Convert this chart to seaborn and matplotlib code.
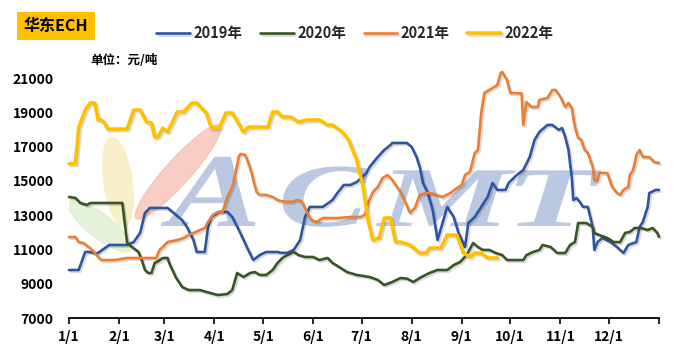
import pandas as pd
import seaborn as sns
import matplotlib.pyplot as plt
import matplotlib.patheffects as pe
from matplotlib.patches import Ellipse, PathPatch
from matplotlib.textpath import TextPath
from matplotlib.font_manager import FontProperties
from matplotlib.transforms import Affine2D

# data: day of year -> price (yuan/ton)
days_2019 = [0, 6, 10, 13, 15, 18, 21, 25, 36, 40, 44, 47, 50, 61, 64, 70, 73, 77, 79, 84,
             86, 88, 93, 98, 101, 106, 110, 114, 118, 122, 129, 131, 135, 139, 143, 146, 149,
             157, 163, 166, 170, 174, 178, 184, 186, 191, 195, 199, 200, 209, 212, 215, 217,
             219, 222, 225, 228, 234, 238, 241, 245, 247, 251, 255, 259, 262, 265, 270, 272,
             277, 281, 285, 288, 291, 296, 299, 303, 305, 307, 309, 311, 312, 314, 316, 318,
             321, 324, 325, 327, 330, 335, 339, 343, 346, 351, 353, 355, 358, 359, 363, 365]
price_2019 = [9800, 9800, 10850, 10850, 10790, 10790, 11000, 11260, 11260, 11430, 11960, 13130,
              13420, 13420, 13190, 12710, 12300, 11550, 10850, 10850, 12300, 12890, 13190, 13190,
              12890, 11960, 11140, 10380, 10670, 10850, 10850, 10800, 10800, 10970, 11550, 12890,
              13480, 13480, 13880, 14290, 14760, 14760, 14930, 15460, 15810, 16390, 16800, 17100,
              17210, 17210, 16980, 16390, 15810, 14880, 14290, 13300, 11550, 13480, 12890, 11960,
              11140, 12540, 12890, 13480, 14060, 14880, 14470, 14470, 14880, 15340, 15630, 16390,
              17380, 17850, 18260, 18260, 17970, 18080, 17560, 16800, 15230, 13880, 14000, 13770,
              13480, 13480, 12310, 10970, 11430, 11670, 11430, 11140, 10790, 11260, 11430, 12310,
              12600, 13480, 14290, 14470, 14470]

days_2020 = [0, 4, 7, 11, 13, 15, 33, 36, 39, 43, 45, 47, 49, 51, 53, 55, 58, 61, 62, 66, 70,
             74, 81, 85, 92, 98, 101, 104, 108, 112, 115, 118, 122, 126, 129, 132, 135, 139, 142,
             146, 151, 155, 160, 163, 168, 172, 178, 182, 186, 191, 195, 200, 205, 209, 213, 218,
             223, 228, 234, 238, 242, 246, 250, 253, 256, 260, 264, 268, 271, 281, 283, 287, 291,
             293, 298, 302, 307, 310, 313, 315, 320, 324, 325, 328, 333, 337, 341, 344, 347, 350,
             354, 358, 361, 364, 365]
price_2020 = [14060, 14000, 13710, 13590, 13700, 13710, 13710, 11370, 11140, 10850, 10380, 9800,
              9625, 9625, 10210, 10300, 10500, 10500, 10210, 9390, 8810, 8630, 8630, 8520, 8340,
              8400, 8630, 9625, 9390, 9625, 9680, 9510, 9510, 9800, 10210, 10500, 10670, 10850,
              10670, 10560, 10560, 10380, 10500, 10210, 9920, 9680, 9510, 9450, 9390, 9220, 8920,
              9100, 9330, 9300, 9100, 9390, 9625, 9800, 9800, 10090, 10270, 10670, 11370, 11140,
              10970, 10970, 10790, 10670, 10380, 10380, 10670, 10850, 10970, 11260, 11140, 10790,
              10790, 11260, 11430, 12540, 12540, 12310, 11960, 11840, 11670, 11430, 11430, 11960,
              12020, 12250, 12250, 12130, 12250, 11960, 11730]

days_2021 = [0, 4, 6, 9, 13, 16, 18, 20, 28, 36, 52, 54, 56, 58, 61, 67, 71, 74, 77, 81, 84,
             86, 89, 92, 95, 98, 101, 103, 105, 106, 109, 111, 113, 114, 116, 118, 122, 126, 129,
             132, 138, 141, 144, 146, 148, 150, 153, 157, 166, 174, 180, 183, 185, 188, 191, 194,
             197, 200, 205, 208, 211, 214, 217, 221, 225, 231, 236, 240, 243, 245, 248, 251, 253,
             255, 257, 262, 265, 267, 268, 271, 273, 280, 281, 283, 286, 290, 291, 296, 299, 301,
             304, 307, 309, 311, 313, 315, 317, 319, 321, 324, 325, 327, 328, 333, 336, 339, 341,
             343, 346, 347, 349, 351, 353, 355, 359, 362, 365]
price_2021 = [11720, 11720, 11430, 11370, 11080, 10790, 10560, 10380, 10380, 10500, 10500, 10500,
              10970, 11140, 11430, 11550, 11670, 11840, 11960, 12130, 12250, 12600, 13010, 13190,
              13190, 14060, 14640, 15460, 16390, 16570, 16510, 16040, 15460, 15050, 14350, 14180,
              14180, 14060, 13880, 13800, 13770, 13880, 13800, 13420, 13010, 12720, 12600, 12830,
              12830, 12890, 12890, 13010, 13710, 14350, 14640, 15160, 15340, 15050, 14350, 13770,
              13130, 13420, 14180, 14290, 14250, 14060, 14290, 14580, 14760, 15340, 15520, 16620,
              16800, 18960, 20130, 20420, 20590, 21290, 21350, 20880, 20130, 20100, 18260, 19600,
              19310, 19310, 19720, 19830, 20300, 20300, 19900, 19310, 19540, 19250, 18140, 17500,
              17380, 16800, 16620, 15810, 15050, 15000, 15460, 15460, 14640, 14290, 14180, 14470,
              14640, 15340, 15630, 16510, 16800, 16390, 16390, 16100, 16040]

days_2022 = [0, 4, 6, 10, 13, 16, 18, 20, 22, 24, 36, 40, 44, 48, 51, 53, 55, 58, 61, 67, 71,
             76, 79, 85, 88, 93, 97, 101, 108, 111, 123, 126, 129, 132, 137, 142, 147, 155, 160,
             163, 169, 173, 178, 182, 185, 188, 192, 195, 199, 202, 205, 211, 217, 221, 223, 230,
             234, 240, 244, 248, 251, 255, 259, 265]
price_2022 = [16000, 16000, 18100, 19130, 19540, 19540, 18550, 18550, 18370, 18020, 18020, 19130,
              19130, 18430, 18370, 17560, 17560, 18080, 17850, 19020, 19020, 19540, 19540, 18960,
              18080, 18080, 18960, 18960, 17850, 18140, 18140, 19020, 19020, 18730, 18730, 18430,
              18550, 18550, 18260, 18260, 17850, 17380, 16220, 14640, 12710, 11550, 11670, 12830,
              12830, 11430, 11430, 11260, 10790, 10790, 11080, 11080, 11840, 11840, 10790, 10560,
              10790, 10790, 10500, 10500]

series = [("2019年", days_2019, price_2019, "#2F55A2", 1.9),
          ("2020年", days_2020, price_2020, "#375623", 1.9),
          ("2021年", days_2021, price_2021, "#ED7D31", 1.9),
          ("2022年", days_2022, price_2022, "#FFC000", 2.6)]

month_days = [0, 31, 59, 90, 120, 151, 181, 212, 243, 273, 304, 334, 365]
month_labels = ["1/1", "2/1", "3/1", "4/1", "5/1", "6/1", "7/1", "8/1", "9/1", "10/1",
                "11/1", "12/1", ""]

sns.set_theme(style="white")
plt.rcParams["font.family"] = ["Noto Sans CJK SC", "DejaVu Sans"]
plt.rcParams["font.weight"] = "bold"

fig = plt.figure(figsize=(6.86, 3.55), dpi=100)
ax = fig.add_axes([69 / 686, 37 / 355, 590 / 686, 240 / 355])
ax.patch.set_visible(False)

# watermark logo swooshes (pixel coordinates)
px = Affine2D().scale(0.01) + fig.dpi_scale_trans
for (cx, cy, w, h, ang, col) in [(118, 182, 28, 90, 8, "#F8ECB8"),
                                 (178, 172, 125, 25, 48, "#F5BDB0"),
                                 (100, 226, 78, 24, -38, "#DDEDCC")]:
    ax.add_artist(Ellipse((cx, 355 - cy), w, h, angle=ang, color=col, alpha=0.75,
                          transform=px, zorder=0))

# watermark letters ACMT
fp = FontProperties(family="Liberation Serif", style="italic", weight="bold")
for ch, x0, base, sx, sy in [("A", 168, 226, 140, 105), ("C", 278, 226, 135, 90),
                             ("M", 378, 226, 150, 85), ("T", 505, 226, 150, 85)]:
    tp = TextPath((0, 0), ch, size=1, prop=fp)
    tr = Affine2D().scale(sx * 0.01, sy * 0.01).translate(x0 * 0.01, (355 - base) * 0.01) \
        + fig.dpi_scale_trans
    ax.add_artist(PathPatch(tp, transform=tr, color="#B3C2DE", alpha=0.9, lw=0, zorder=0))

shadow = [pe.SimpleLineShadow(offset=(1.2, -1.2), alpha=0.15, shadow_color="black"), pe.Normal()]
for name, d, p, col, lw in series:
    sns.lineplot(x=d, y=p, ax=ax, color=col, lw=lw, label=name, estimator=None, sort=False)
for line in ax.lines:
    line.set_clip_on(False)
    line.set_path_effects(shadow)
    line.set_zorder(3)

handles, labels = ax.get_legend_handles_labels()
ax.get_legend().remove()
fig.legend(handles, labels, loc="center", bbox_to_anchor=(355 / 686, (355 - 33) / 355), ncol=4,
           frameon=False, handlelength=2.3, handletextpad=0.25, columnspacing=1.2,
           prop={"size": 10.5, "weight": "bold"})

ax.set_xlim(0, 365)
ax.set_ylim(7000, 21000)
ax.set_yticks(range(7000, 21001, 2000))
ax.set_xticks(month_days)
ax.set_xticklabels(month_labels)
ax.set_xlabel("")
ax.set_ylabel("")
for s in ["top", "right", "left"]:
    ax.spines[s].set_visible(False)
ax.spines["bottom"].set_color("black")
ax.spines["bottom"].set_linewidth(1.3)
ax.tick_params(axis="y", length=0, pad=11, labelsize=10, colors="black")
ax.tick_params(axis="x", direction="out", length=4, width=1.2, pad=5, labelsize=10,
               colors="black", bottom=True)

fig.text(56 / 686, (355 - 26) / 355, "华东ECH", ha="center", va="center", fontsize=11.5,
         fontweight="bold", color="black",
         bbox=dict(boxstyle="square,pad=0.4", fc="#FFC000", ec="none"))
fig.text(90 / 686, (355 - 60) / 355, "单位：元/吨", ha="left", va="center", fontsize=9,
         fontweight="bold", color="black")

fig.savefig("out.png", dpi=100)
